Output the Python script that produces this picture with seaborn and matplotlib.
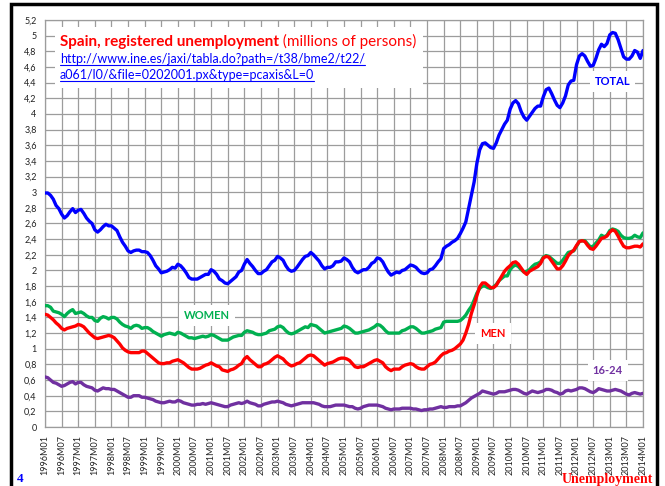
import numpy as np
import pandas as pd
import matplotlib
matplotlib.use("Agg")
import matplotlib.pyplot as plt
import seaborn as sns
from matplotlib.patches import Rectangle
from matplotlib.lines import Line2D

# registered unemployment, millions of persons, monthly 1996M01 - 2014M01
total = [2.99, 2.99, 2.96, 2.91, 2.83, 2.79, 2.72, 2.67, 2.70, 2.75, 2.79, 2.74,
         2.77, 2.78, 2.73, 2.67, 2.63, 2.60, 2.52, 2.49, 2.52, 2.56, 2.59, 2.57,
         2.57, 2.54, 2.51, 2.43, 2.36, 2.31, 2.25, 2.23, 2.25, 2.26, 2.26, 2.24,
         2.24, 2.23, 2.19, 2.13, 2.06, 2.02, 1.97, 1.98, 1.99, 2.01, 2.04, 2.03,
         2.08, 2.06, 2.02, 1.97, 1.91, 1.89, 1.89, 1.89, 1.91, 1.93, 1.95, 1.95,
         2.01, 1.99, 1.95, 1.89, 1.87, 1.84, 1.83, 1.86, 1.89, 1.92, 1.98, 2.00,
         2.08, 2.14, 2.09, 2.05, 2.00, 1.96, 1.96, 1.99, 2.01, 2.06, 2.11, 2.13,
         2.18, 2.16, 2.13, 2.06, 2.01, 1.99, 2.00, 2.04, 2.09, 2.14, 2.18, 2.19,
         2.23, 2.20, 2.16, 2.12, 2.06, 2.02, 2.04, 2.04, 2.06, 2.11, 2.11, 2.12,
         2.16, 2.14, 2.11, 2.04, 1.99, 1.97, 1.99, 2.01, 2.01, 2.04, 2.09, 2.11,
         2.16, 2.15, 2.11, 2.04, 1.98, 1.94, 1.96, 1.98, 1.97, 2.00, 2.01, 2.04,
         2.07, 2.06, 2.04, 2.00, 1.97, 1.96, 1.97, 2.01, 2.02, 2.06, 2.11, 2.15,
         2.28, 2.31, 2.33, 2.36, 2.38, 2.41, 2.47, 2.54, 2.62, 2.79, 2.96, 3.13,
         3.37, 3.54, 3.62, 3.63, 3.60, 3.57, 3.56, 3.63, 3.73, 3.80, 3.87, 3.92,
         4.06, 4.14, 4.17, 4.13, 4.03, 3.96, 3.92, 3.97, 4.02, 4.07, 4.10, 4.10,
         4.22, 4.31, 4.33, 4.26, 4.18, 4.11, 4.08, 4.14, 4.23, 4.37, 4.42, 4.43,
         4.63, 4.74, 4.77, 4.74, 4.67, 4.61, 4.62, 4.71, 4.82, 4.89, 4.86, 4.90,
         5.01, 5.04, 5.03, 4.95, 4.84, 4.73, 4.70, 4.70, 4.74, 4.81, 4.79, 4.71, 4.81]

women = [1.55, 1.55, 1.53, 1.48, 1.47, 1.46, 1.44, 1.41, 1.45, 1.48, 1.50, 1.45,
         1.46, 1.47, 1.45, 1.42, 1.40, 1.40, 1.36, 1.35, 1.39, 1.41, 1.40, 1.38,
         1.40, 1.40, 1.38, 1.34, 1.31, 1.29, 1.28, 1.26, 1.29, 1.30, 1.29, 1.26,
         1.27, 1.27, 1.25, 1.22, 1.20, 1.18, 1.16, 1.18, 1.19, 1.20, 1.19, 1.18,
         1.21, 1.20, 1.18, 1.16, 1.14, 1.14, 1.13, 1.14, 1.15, 1.16, 1.15, 1.16,
         1.18, 1.17, 1.15, 1.13, 1.11, 1.11, 1.11, 1.13, 1.15, 1.16, 1.17, 1.17,
         1.21, 1.23, 1.22, 1.21, 1.19, 1.18, 1.18, 1.19, 1.20, 1.23, 1.24, 1.25,
         1.28, 1.29, 1.27, 1.23, 1.20, 1.19, 1.20, 1.22, 1.24, 1.26, 1.28, 1.27,
         1.31, 1.30, 1.29, 1.26, 1.23, 1.20, 1.21, 1.22, 1.23, 1.24, 1.25, 1.26,
         1.29, 1.28, 1.26, 1.23, 1.20, 1.20, 1.21, 1.22, 1.23, 1.24, 1.26, 1.28,
         1.31, 1.30, 1.27, 1.23, 1.20, 1.20, 1.20, 1.20, 1.20, 1.23, 1.24, 1.26,
         1.28, 1.28, 1.26, 1.23, 1.20, 1.20, 1.21, 1.22, 1.23, 1.25, 1.26, 1.27,
         1.34, 1.35, 1.35, 1.35, 1.35, 1.35, 1.36, 1.39, 1.43, 1.49, 1.54, 1.62,
         1.71, 1.77, 1.80, 1.80, 1.78, 1.77, 1.79, 1.82, 1.87, 1.90, 1.93, 1.93,
         2.01, 2.05, 2.07, 2.05, 2.01, 1.98, 1.99, 2.01, 2.05, 2.08, 2.09, 2.11,
         2.17, 2.19, 2.18, 2.15, 2.12, 2.09, 2.09, 2.13, 2.18, 2.23, 2.24, 2.25,
         2.31, 2.37, 2.38, 2.38, 2.34, 2.30, 2.31, 2.35, 2.39, 2.45, 2.43, 2.45,
         2.51, 2.53, 2.52, 2.50, 2.45, 2.42, 2.41, 2.41, 2.42, 2.45, 2.43, 2.42, 2.48]

men = [1.44, 1.43, 1.40, 1.37, 1.33, 1.30, 1.26, 1.24, 1.26, 1.27, 1.28, 1.29,
       1.31, 1.30, 1.28, 1.24, 1.20, 1.17, 1.14, 1.13, 1.14, 1.15, 1.16, 1.17,
       1.16, 1.14, 1.10, 1.06, 1.01, 0.98, 0.96, 0.95, 0.95, 0.95, 0.95, 0.97,
       0.97, 0.94, 0.91, 0.88, 0.85, 0.82, 0.81, 0.81, 0.82, 0.82, 0.84, 0.85,
       0.86, 0.84, 0.82, 0.79, 0.76, 0.74, 0.74, 0.74, 0.75, 0.77, 0.79, 0.80,
       0.82, 0.80, 0.78, 0.77, 0.73, 0.72, 0.71, 0.73, 0.74, 0.76, 0.79, 0.81,
       0.87, 0.90, 0.86, 0.83, 0.80, 0.77, 0.77, 0.80, 0.81, 0.83, 0.86, 0.89,
       0.91, 0.89, 0.87, 0.83, 0.80, 0.78, 0.79, 0.81, 0.82, 0.85, 0.88, 0.91,
       0.92, 0.91, 0.88, 0.85, 0.82, 0.79, 0.81, 0.82, 0.83, 0.85, 0.87, 0.88,
       0.88, 0.87, 0.85, 0.81, 0.77, 0.76, 0.77, 0.77, 0.79, 0.81, 0.83, 0.85,
       0.86, 0.84, 0.82, 0.77, 0.74, 0.72, 0.74, 0.74, 0.74, 0.77, 0.79, 0.80,
       0.81, 0.80, 0.77, 0.75, 0.74, 0.74, 0.77, 0.80, 0.81, 0.83, 0.87, 0.91,
       0.94, 0.95, 0.97, 0.98, 1.00, 1.03, 1.06, 1.11, 1.20, 1.31, 1.45, 1.56,
       1.68, 1.79, 1.84, 1.84, 1.81, 1.78, 1.78, 1.81, 1.87, 1.93, 1.99, 2.03,
       2.06, 2.10, 2.11, 2.08, 2.03, 1.98, 1.95, 1.99, 2.01, 2.03, 2.05, 2.09,
       2.16, 2.18, 2.17, 2.12, 2.07, 2.02, 2.02, 2.06, 2.12, 2.19, 2.23, 2.26,
       2.32, 2.37, 2.38, 2.37, 2.32, 2.28, 2.27, 2.31, 2.36, 2.41, 2.42, 2.44,
       2.49, 2.52, 2.50, 2.44, 2.37, 2.31, 2.29, 2.29, 2.30, 2.31, 2.31, 2.30, 2.34]

youth = [0.64, 0.63, 0.60, 0.57, 0.56, 0.54, 0.52, 0.53, 0.55, 0.57, 0.58, 0.55,
         0.57, 0.57, 0.54, 0.52, 0.51, 0.50, 0.47, 0.46, 0.48, 0.50, 0.49, 0.49,
         0.48, 0.48, 0.46, 0.44, 0.42, 0.40, 0.38, 0.38, 0.40, 0.40, 0.40, 0.38,
         0.38, 0.37, 0.36, 0.35, 0.33, 0.32, 0.31, 0.31, 0.32, 0.33, 0.32, 0.32,
         0.34, 0.33, 0.31, 0.30, 0.29, 0.28, 0.28, 0.29, 0.29, 0.30, 0.29, 0.30,
         0.31, 0.30, 0.29, 0.28, 0.27, 0.26, 0.26, 0.28, 0.29, 0.30, 0.31, 0.30,
         0.31, 0.33, 0.31, 0.30, 0.29, 0.27, 0.27, 0.29, 0.30, 0.31, 0.32, 0.32,
         0.33, 0.32, 0.31, 0.29, 0.28, 0.27, 0.28, 0.29, 0.30, 0.31, 0.31, 0.31,
         0.31, 0.31, 0.30, 0.29, 0.27, 0.26, 0.26, 0.26, 0.27, 0.28, 0.28, 0.28,
         0.28, 0.27, 0.26, 0.26, 0.24, 0.23, 0.24, 0.26, 0.27, 0.28, 0.28, 0.28,
         0.28, 0.27, 0.26, 0.24, 0.23, 0.22, 0.23, 0.23, 0.23, 0.24, 0.24, 0.24,
         0.24, 0.23, 0.23, 0.22, 0.21, 0.22, 0.22, 0.23, 0.23, 0.24, 0.25, 0.26,
         0.25, 0.25, 0.26, 0.26, 0.26, 0.27, 0.27, 0.29, 0.31, 0.34, 0.37, 0.39,
         0.41, 0.43, 0.46, 0.45, 0.44, 0.43, 0.42, 0.43, 0.45, 0.45, 0.45, 0.46,
         0.47, 0.48, 0.48, 0.47, 0.45, 0.43, 0.42, 0.44, 0.46, 0.45, 0.44, 0.45,
         0.46, 0.48, 0.48, 0.47, 0.45, 0.44, 0.42, 0.43, 0.46, 0.47, 0.46, 0.47,
         0.48, 0.50, 0.50, 0.49, 0.47, 0.45, 0.44, 0.46, 0.49, 0.48, 0.47, 0.46,
         0.46, 0.47, 0.48, 0.47, 0.46, 0.44, 0.42, 0.41, 0.43, 0.44, 0.43, 0.42, 0.43]

months = [f"{y}M{m:02d}" for y in range(1996, 2015) for m in range(1, 13)][:len(total)]
tick_pos = list(range(0, len(months), 6))
tick_labels = [months[i] for i in tick_pos]
ytick_vals = [round(0.2 * i, 1) for i in range(27)]
ytick_labels = [f"{v:g}".replace(".", ",") for v in ytick_vals]

colors = {"TOTAL": "#0000FF", "WOMEN": "#00B050", "MEN": "#FF0000", "16-24": "#7030A0"}

df = pd.DataFrame({"month": range(len(months)), "TOTAL": total, "WOMEN": women,
                   "MEN": men, "16-24": youth})
long = df.melt(id_vars="month", var_name="series", value_name="value")

sns.set_style("white")
plt.rcParams["font.family"] = ["Lato", "DejaVu Sans"]

W, H = 665, 486
fig = plt.figure(figsize=(W / 100, H / 100), dpi=100)
ax = fig.add_axes([45 / W, 59 / H, 598 / W, 407 / H])

sns.lineplot(data=long, x="month", y="value", hue="series", palette=colors,
             linewidth=2.4, legend=False, ax=ax, zorder=3)

ax.set_xlim(0, len(months) - 1)
ax.set_ylim(0, 5.2)
ax.set_xticks(tick_pos)
ax.set_xticklabels(tick_labels, rotation=90, fontsize=6.5, color="#222222")
ax.set_yticks(ytick_vals)
ax.set_yticklabels(ytick_labels, fontsize=6.5, color="#222222")
ax.set_xlabel("")
ax.set_ylabel("")
ax.grid(True, color="#9c9c9c", linewidth=0.9)
ax.set_axisbelow(True)
for s in ax.spines.values():
    s.set_color("#9c9c9c")
    s.set_linewidth(0.9)
ax.tick_params(axis="both", direction="out", length=4, width=0.9, color="#9c9c9c", pad=2)

# white box behind the title
ax.add_patch(Rectangle((55 / W, 1 - 88 / H), 368 / W, 61 / H, transform=fig.transFigure,
                       facecolor="white", edgecolor="none", zorder=1, clip_on=False))

# series labels
lab = {"TOTAL": (205, 4.41), "WOMEN": (58.5, 1.43), "MEN": (161.8, 1.20), "16-24": (203.3, 0.72)}
for name, (mx, my) in lab.items():
    ax.text(mx, my, name, color=colors[name], fontsize=8, fontweight="bold",
            ha="center", va="center", zorder=4,
            bbox=dict(boxstyle="square,pad=0.45", fc="white", ec="none"))

# title
x0 = 60 / W
t1 = fig.text(x0, 1 - 46 / H, "Spain, registered unemployment", color="#FF0000",
              fontsize=11, fontweight="bold", va="baseline")
fig.canvas.draw()
bb = t1.get_window_extent()
fig.text(bb.x1 / W, 1 - 46 / H, " (millions of persons)", color="#FF0000",
         fontsize=11, va="baseline")

url_lines = ["http://www.ine.es/jaxi/tabla.do?path=/t38/bme2/t22/",
             "a061/l0/&file=0202001.px&type=pcaxis&L=0"]
for i, u in enumerate(url_lines):
    yb = 1 - (63 + 16 * i) / H
    t = fig.text(x0, yb, u, color="#0000FF", fontsize=9, va="baseline")
    fig.canvas.draw()
    b = t.get_window_extent()
    fig.add_artist(Line2D([b.x0 / W, b.x1 / W], [yb - 2 / H, yb - 2 / H],
                          color="#0000FF", linewidth=0.8))

fig.text(20 / W, 1 - 479 / H, "4", color="#0000FF", fontsize=9.5, fontweight="bold",
         family="Liberation Serif", va="center", ha="center")
fig.text(653 / W, 1 - 479 / H, "Unemployment", color="#FF0000", fontsize=10,
         fontweight="bold", family="Liberation Serif", va="center", ha="right")

# outer frame
fig.add_artist(Rectangle((11 / W, -0.02), 646 / W, 1.02 - 4 / H, transform=fig.transFigure,
                         fill=False, edgecolor="black", linewidth=2.5))

fig.savefig("out.png", dpi=100)
